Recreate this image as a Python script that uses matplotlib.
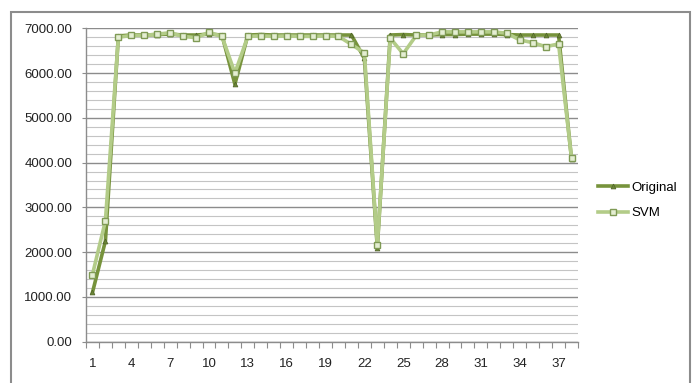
import matplotlib.pyplot as plt
import matplotlib.patches as patches
from matplotlib.ticker import MultipleLocator, FixedLocator
import numpy as np

# chart values
points = list(range(1, 39))
original = [1100, 2250, 6830, 6850, 6850, 6860, 6870, 6850, 6850, 6870,
            6850, 5750, 6850, 6860, 6850, 6850, 6850, 6850, 6850, 6850,
            6850, 6330, 2100, 6850, 6860, 6850, 6850, 6860, 6860, 6870,
            6870, 6870, 6860, 6850, 6850, 6850, 6850, 4080]
svm = [1500, 2700, 6800, 6840, 6840, 6870, 6900, 6820, 6790, 6910,
       6820, 6000, 6820, 6830, 6820, 6830, 6820, 6820, 6830, 6820,
       6640, 6450, 2150, 6780, 6430, 6840, 6850, 6920, 6920, 6920,
       6920, 6920, 6890, 6740, 6680, 6590, 6650, 4100]
series_names = ["Original", "SVM"]
tick_labels = [str(p) for p in points[::3]]

plt.rcParams["font.family"] = ["Liberation Sans", "DejaVu Sans"]

fig = plt.figure(figsize=(6.94, 3.83), dpi=100)
ax = fig.add_axes([86 / 694, 1 - 341.7 / 383, 492 / 694, 313.4 / 383])

# outer chart border
fig.patches.append(patches.Rectangle((10.5 / 694, -0.05), 679.5 / 694, 1.05 - 12 / 383,
                                     transform=fig.transFigure, fill=False,
                                     edgecolor="#8c8c8c", linewidth=1.5))

x = np.arange(len(points))
ax.plot(x, original, color="#77933c", linewidth=2.6, marker="^", markersize=3.5,
        markerfacecolor="#6b8636", markeredgecolor="#4f6228", markeredgewidth=0.5,
        label=series_names[0], zorder=3)
ax.plot(x, svm, color="#b3cc88", linewidth=2.6, marker="s", markersize=4.2,
        markerfacecolor="#e4eed2", markeredgecolor="#7f9a55", markeredgewidth=1.0,
        label=series_names[1], zorder=4)

ax.set_xlim(-0.5, len(points) - 0.5)
ax.set_ylim(0, 7000)

ax.yaxis.set_major_locator(MultipleLocator(1000))
ax.yaxis.set_minor_locator(MultipleLocator(200))
ax.yaxis.set_major_formatter(lambda v, pos: f"{v:.2f}")
ax.grid(axis="y", which="major", color="#8c8c8c", linewidth=1.0, zorder=0)
ax.grid(axis="y", which="minor", color="#c4c4c4", linewidth=0.8, zorder=0)
ax.set_axisbelow(True)

ax.xaxis.set_major_locator(FixedLocator(x[::3]))
ax.set_xticklabels(tick_labels)
ax.xaxis.set_minor_locator(FixedLocator(np.arange(-0.5, len(points), 1)))

ax.tick_params(axis="x", which="major", length=0, pad=12, labelsize=9.5, colors="#222222")
ax.tick_params(axis="x", which="minor", length=4, width=0.8, color="#8c8c8c", direction="out")
ax.tick_params(axis="y", which="major", length=3, width=0.8, color="#8c8c8c",
               pad=7, labelsize=9.5, labelcolor="#222222")
ax.tick_params(axis="y", which="minor", length=0)

for side in ["top", "right"]:
    ax.spines[side].set_visible(False)
for side in ["left", "bottom"]:
    ax.spines[side].set_color("#8c8c8c")
    ax.spines[side].set_linewidth(1.0)

fig.legend(loc="center left", bbox_to_anchor=(598 / 694, 1 - 200.5 / 383),
           frameon=False, fontsize=9.5, handlelength=2.3, handletextpad=0.2,
           labelspacing=1.0, borderpad=0, borderaxespad=0)

fig.savefig("out.png", dpi=100)
